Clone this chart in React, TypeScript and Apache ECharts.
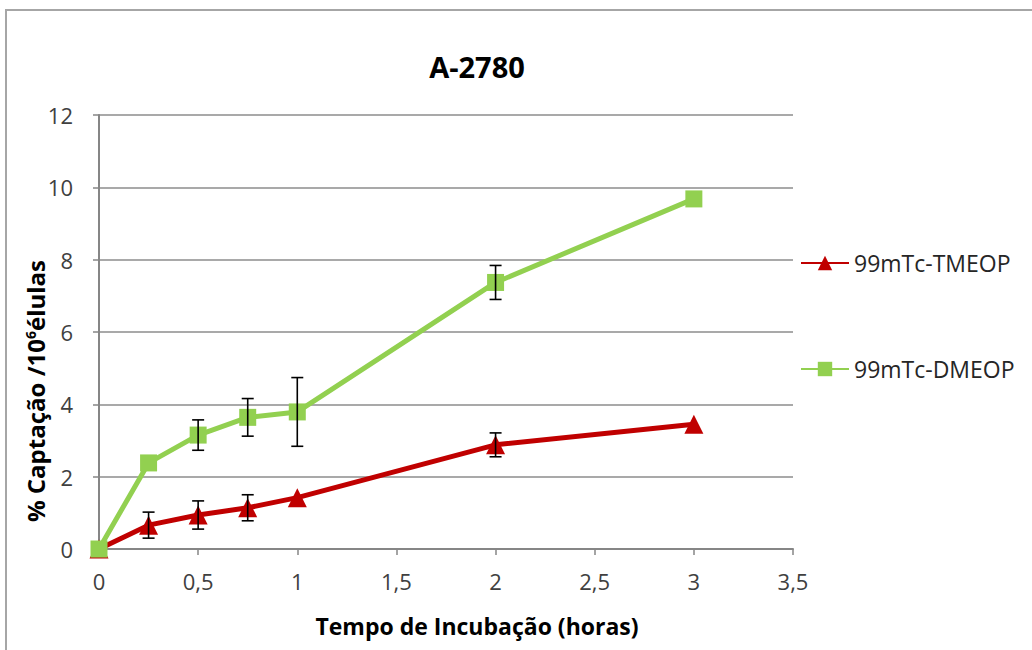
import React, { useEffect, useRef } from "react";
import * as echarts from "echarts";

// Incubation times (hours)
const hours = [0, 0.25, 0.5, 0.75, 1, 2, 3];
// % uptake per 10^6 cells, with standard deviations
const tmeop = [0, 0.66, 0.94, 1.14, 1.42, 2.88, 3.45];
const tmeopErr = [0, 0.36, 0.39, 0.36, 0, 0.33, 0];
const dmeop = [0, 2.38, 3.15, 3.64, 3.79, 7.37, 9.68];
const dmeopErr = [0, 0, 0.42, 0.52, 0.95, 0.47, 0];

const seriesNames = ["99mTc-TMEOP", "99mTc-DMEOP"];
const yTicks = [0, 2, 4, 6, 8, 10, 12];

const FONT = "'Open Sans', 'Noto Sans', sans-serif";

function errorData(ys: number[], errs: number[]) {
  return hours
    .map((x, i) => [x, ys[i] - errs[i], ys[i] + errs[i]])
    .filter((_, i) => errs[i] > 0);
}

function errorSeries(ys: number[], errs: number[]) {
  return {
    type: "custom",
    silent: true,
    z: 5,
    data: errorData(ys, errs),
    renderItem: (_params: any, api: any) => {
      const x = api.value(0);
      const lo = api.coord([x, api.value(1)]);
      const hi = api.coord([x, api.value(2)]);
      const w = 6;
      const style = { stroke: "#000000", lineWidth: 1.6 };
      return {
        type: "group",
        children: [
          { type: "line", shape: { x1: lo[0], y1: lo[1], x2: hi[0], y2: hi[1] }, style },
          { type: "line", shape: { x1: lo[0] - w, y1: lo[1], x2: lo[0] + w, y2: lo[1] }, style },
          { type: "line", shape: { x1: hi[0] - w, y1: hi[1], x2: hi[0] + w, y2: hi[1] }, style },
        ],
      };
    },
  };
}

export default function App() {
  const ref = useRef<HTMLDivElement>(null);

  useEffect(() => {
    if (!ref.current) return;
    const chart = echarts.init(ref.current, null, { renderer: "svg" });
    chart.setOption({
      animation: false,
      backgroundColor: "#ffffff",
      grid: { left: 99, right: 239, top: 115, bottom: 101 },
      graphic: [
        {
          type: "rect",
          shape: { x: 6, y: 10, width: 1040, height: 660 },
          style: { fill: "none", stroke: "#a6a6a6", lineWidth: 2 },
          silent: true,
        },
        {
          type: "text",
          x: 477,
          y: 66,
          style: {
            text: "A-2780",
            font: `bold 29px ${FONT}`,
            fill: "#000000",
            align: "center",
            verticalAlign: "middle",
          },
        },
        {
          type: "text",
          x: 477,
          y: 626,
          style: {
            text: "Tempo de Incubação (horas)",
            font: `bold 23px ${FONT}`,
            fill: "#000000",
            align: "center",
            verticalAlign: "middle",
          },
        },
        {
          type: "text",
          x: 35,
          y: 391,
          rotation: Math.PI / 2,
          style: {
            text: "% Captação /10{sup|6}élulas",
            font: `bold 24px ${FONT}`,
            fill: "#000000",
            align: "center",
            verticalAlign: "middle",
            rich: {
              sup: {
                fontSize: 14,
                fontWeight: "bold",
                fontFamily: FONT,
                fill: "#000000",
                verticalAlign: "top",
                padding: [0, 0, 10, 0],
              },
            },
          },
        },
      ],
      legend: {
        orient: "vertical",
        left: 795,
        top: 246,
        itemWidth: 48,
        itemHeight: 18,
        itemGap: 82,
        data: seriesNames,
        textStyle: { fontFamily: FONT, fontSize: 23, lineHeight: 24, color: "#262626" },
      },
      xAxis: {
        type: "value",
        min: 0,
        max: 3.5,
        interval: 0.5,
        axisLine: { lineStyle: { color: "#868686", width: 2 } },
        axisTick: { show: true, length: 6, lineStyle: { color: "#868686", width: 1.5 } },
        splitLine: { show: false },
        axisLabel: {
          margin: 21,
          fontFamily: FONT,
          fontSize: 22,
          color: "#404040",
          formatter: (v: number) => String(v).replace(".", ","),
        },
      },
      yAxis: {
        type: "value",
        min: yTicks[0],
        max: yTicks[yTicks.length - 1],
        interval: 2,
        axisLine: { show: true, lineStyle: { color: "#868686", width: 2 } },
        axisTick: { show: true, length: 6, lineStyle: { color: "#868686", width: 1.5 } },
        splitLine: { show: true, lineStyle: { color: "#8c8c8c", width: 1.5 } },
        axisLabel: {
          margin: 26,
          fontFamily: FONT,
          fontSize: 22,
          color: "#404040",
        },
      },
      series: [
        {
          name: seriesNames[0],
          type: "line",
          data: hours.map((x, i) => [x, tmeop[i]]),
          symbol: "triangle",
          symbolSize: 19,
          color: "#c00000",
          lineStyle: { width: 5, color: "#c00000" },
          itemStyle: { color: "#c00000" },
          z: 3,
        },
        {
          name: seriesNames[1],
          type: "line",
          data: hours.map((x, i) => [x, dmeop[i]]),
          symbol: "rect",
          symbolSize: 17,
          color: "#92d050",
          lineStyle: { width: 5, color: "#92d050" },
          itemStyle: { color: "#92d050" },
          z: 4,
        },
        errorSeries(tmeop, tmeopErr),
        errorSeries(dmeop, dmeopErr),
      ],
    });
    return () => chart.dispose();
  }, []);

  return (
    <div
      ref={ref}
      style={{ position: "fixed", left: 0, top: 0, width: 1032, height: 650 }}
    />
  );
}
